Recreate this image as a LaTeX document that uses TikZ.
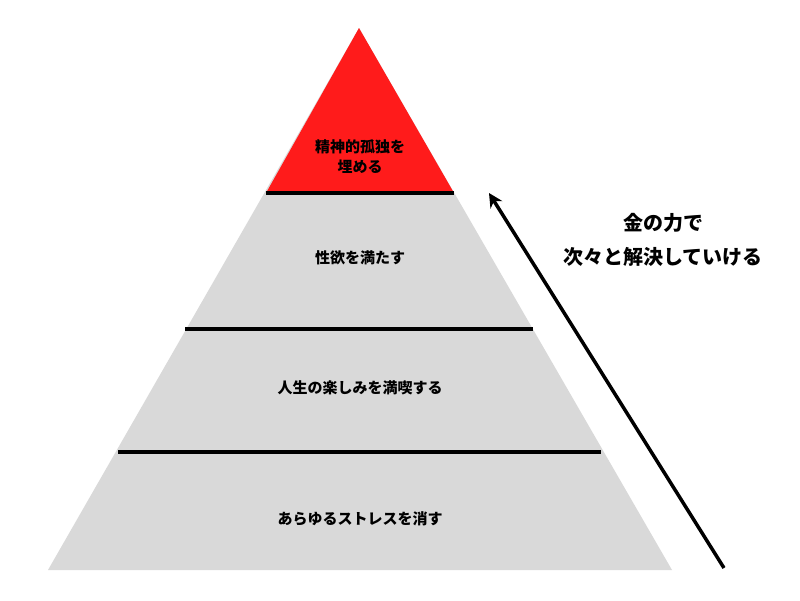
\documentclass[tikz,border=0pt]{standalone}
\usepackage{fontspec}
\usetikzlibrary{arrows.meta}
\newfontfamily\cjk{Noto Sans CJK JP}
\begin{document}
\begin{tikzpicture}[x=1pt,y=-1pt,
  lbl/.style={font=\cjk\bfseries\fontsize{15}{20}\selectfont,align=center,text=black},
  side/.style={font=\cjk\bfseries\fontsize{20}{34}\selectfont,align=center,text=black},
  divider/.style={line width=3.5pt,black}]
\useasboundingbox (0,0) rectangle (800,600);
\fill[white] (0,0) rectangle (800,600);
\coordinate (apex) at (359,28);
\coordinate (bl) at (48,570);
\coordinate (br) at (672,570);
\fill[gray!30] (bl) -- (apex) -- (br) -- cycle;
\fill[fill={rgb,255:red,255;green,27;blue,27}] (apex) -- (266,193) -- (454,193) -- cycle;
\draw[divider] (266,193) -- (454,193);
\draw[divider] (185,329) -- (533,329);
\draw[divider] (118,452) -- (601,452);
\node[lbl] (t1) at (360,157) {精神的孤独を\\埋める};
\node[lbl] (t2) at (360,258) {性欲を満たす};
\node[lbl] (t3) at (360,388) {人生の楽しみを満喫する};
\node[lbl] (t4) at (360,519) {あらゆるストレスを消す};
\coordinate (as) at (724,568);
\coordinate (ae) at (489,193);
\draw[line width=3.5pt,-{Stealth[length=14pt,width=14pt]}] (as) -- (ae);
\node[side] (s) at (663,240) {金の力で\\次々と解決していける};
\end{tikzpicture}
\end{document}
